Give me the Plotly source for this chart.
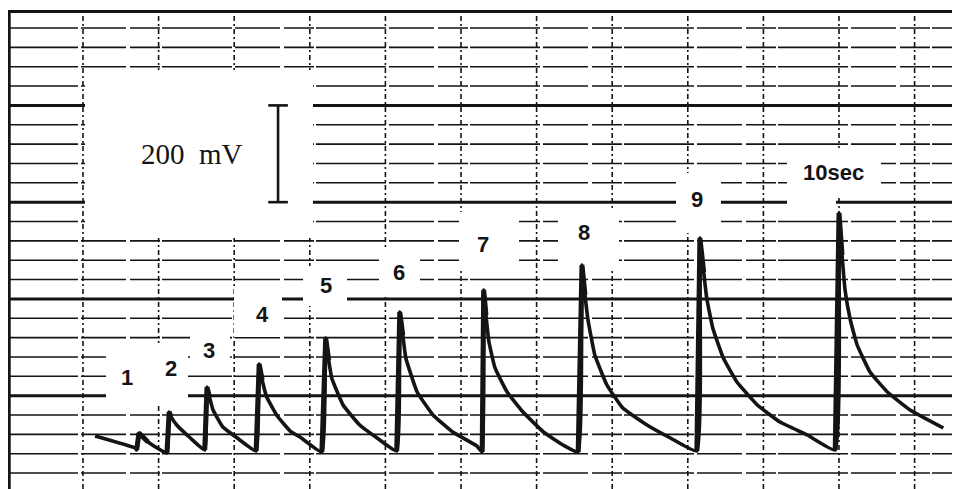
import plotly.graph_objects as go

# ---------------- data (x in chart divisions, y in mV above trough level) ----------------
trace_x = [1.16, 1.69, 1.71, 1.74, 1.86, 2.11, 2.14, 2.16, 2.24, 2.42, 2.61,
           2.64, 2.67, 2.72, 2.85, 3.04, 3.29,
           3.33, 3.37, 3.43, 3.57, 3.74, 3.87, 4.16,
           4.21, 4.25, 4.29, 4.44, 4.66, 4.89, 5.15,
           5.19, 5.23, 5.27, 5.42, 5.63, 5.89, 6.21, 6.28,
           6.30, 6.33, 6.37, 6.45, 6.61, 6.82, 7.09, 7.35, 7.55,
           7.60, 7.64, 7.68, 7.77, 7.93, 8.14, 8.46, 8.77, 9.12,
           9.16, 9.21, 9.25, 9.33, 9.47, 9.65, 9.92, 10.22, 10.58, 10.95,
           11.00, 11.04, 11.08, 11.15, 11.24, 11.41, 11.64, 11.94, 12.38]
trace_mv = [36.6, 11.8, 7.6, 42.8, 24.2, 1.4, 86.2, 77.9, 59.3, 32.5, 7.6,
            137.9, 119.3, 90.3, 55.2, 32.5, 5.6,
            185.4, 152.3, 117.2, 77.9, 46.9, 34.5, 3.5,
            239.2, 193.7, 156.5, 100.7, 59.3, 32.5, 5.6,
            292.9, 245.4, 197.8, 127.5, 80.0, 44.9, 15.9, 3.5,
            338.4, 286.7, 230.9, 177.2, 127.5, 86.2, 44.9, 18.0, 3.5,
            390.1, 328.1, 276.4, 204.0, 142.0, 94.5, 59.3, 32.5, 5.6,
            445.9, 375.6, 321.9, 259.8, 197.8, 148.2, 100.7, 65.5, 38.7, 7.6,
            497.6, 410.8, 338.4, 276.4, 224.7, 168.9, 127.5, 90.3, 53.1]

spike_labels = ["1", "2", "3", "4", "5", "6", "7", "8", "9", "10sec"]

scale_bar_mv = 200          # calibration bar height
scale_bar_base_mv = 520     # where the bar starts
scale_bar_x = 3.58
scale_label = "200\u00a0\u00a0mV"

grid_mv_lines = list(range(-40, 881, 40))     # chart-paper rulings, 40 mV apart
grid_div_lines = list(range(1, 13))           # time rulings

# ---------------- layout helpers ----------------
REF_W, REF_H = 960, 489
OFF = 8                                # page body margin
W, H = REF_W - OFF, REF_H - OFF
X0_PX, X_DIV_PX = 7.4, 75.6            # left border and one division (reference pixels)
Y0_PX, Y_PX_PER_MV = 453.7, 19.35 / 40.0

x_range = [(OFF - X0_PX) / X_DIV_PX, (REF_W - X0_PX) / X_DIV_PX]
y_range = [(Y0_PX - REF_H) / Y_PX_PER_MV, (Y0_PX - OFF) / Y_PX_PER_MV]

INK = "#141414"
TOP_PX = 11.5                          # top border of the paper (reference pixels)


def ref_px_to_paper(px, py):
    return (px - OFF) / W, 1 - (py - OFF) / H


shapes = []
# horizontal rulings
for mv in grid_mv_lines:
    thick = (mv - 120) % 200 == 0
    shapes.append(dict(type="line", xref="paper", yref="y", x0=0, x1=1, y0=mv, y1=mv,
                       line=dict(color=INK, width=3 if thick else 1.6,
                                 dash="solid" if thick else "70px,3px,45px,4px,30px,2px"),
                       layer="below"))
# vertical rulings
top_paper = ref_px_to_paper(0, TOP_PX)[1]
for d in grid_div_lines:
    shapes.append(dict(type="line", xref="x", yref="paper", x0=d, x1=d, y0=0, y1=top_paper,
                       line=dict(color=INK, width=1.6, dash="5px,3px,2px,3px"),
                       layer="below"))
# top and left borders of the chart paper
shapes.append(dict(type="line", xref="paper", yref="paper", x0=0, x1=1,
                   y0=top_paper, y1=top_paper,
                   line=dict(color=INK, width=3.2), layer="above"))
shapes.append(dict(type="line", xref="paper", yref="paper", x0=1.2 / W, x1=1.2 / W,
                   y0=0, y1=top_paper, line=dict(color=INK, width=3), layer="above"))


def px_rect(x0, y0, x1, y1):
    a0, b1 = ref_px_to_paper(x0, y0)
    a1, b0 = ref_px_to_paper(x1, y1)
    return dict(type="rect", xref="paper", yref="paper",
                x0=a0, x1=a1, y0=b0, y1=b1,
                fillcolor="white", line=dict(width=0), layer="below")


white_boxes_px = [
    (85, 70, 313, 238),     # calibration box
    (106, 352, 150, 404),   # 1
    (150, 343, 188, 404),   # 2
    (190, 324, 230, 368),   # 3
    (234, 287, 282, 337),   # 4
    (303, 266, 347, 306),   # 5
    (379, 248, 420, 296),   # 6
    (459, 212, 519, 270),   # 7
    (558, 209, 619, 270),   # 8
    (676, 173, 721, 233),   # 9
    (787, 148, 881, 195),   # 10sec
    (787, 195, 836, 213),
]
shapes += [px_rect(*b) for b in white_boxes_px]

fig = go.Figure()

# recorder trace
fig.add_trace(go.Scatter(x=trace_x, y=trace_mv, mode="lines",
                         line=dict(color=INK, width=3.6, shape="spline", smoothing=0.35),
                         hoverinfo="skip", showlegend=False))

# heavier ink on the fast pen strokes (rise to each peak and first fall)
sx, sy = [], []
for i in range(1, len(trace_mv) - 1):
    if trace_mv[i] > trace_mv[i - 1] and trace_mv[i] > trace_mv[i + 1]:
        sx += [trace_x[i - 1], trace_x[i], trace_x[i + 1], None]
        sy += [trace_mv[i - 1], trace_mv[i], trace_mv[i + 1], None]
fig.add_trace(go.Scatter(x=sx, y=sy, mode="lines",
                         line=dict(color=INK, width=5),
                         hoverinfo="skip", showlegend=False))

# calibration bar with caps
cap = 0.13
bx = [scale_bar_x, scale_bar_x, None,
      scale_bar_x - cap, scale_bar_x + cap, None,
      scale_bar_x - cap, scale_bar_x + cap]
by = [scale_bar_base_mv, scale_bar_base_mv + scale_bar_mv, None,
      scale_bar_base_mv + scale_bar_mv, scale_bar_base_mv + scale_bar_mv, None,
      scale_bar_base_mv, scale_bar_base_mv]
fig.add_trace(go.Scatter(x=bx, y=by, mode="lines", line=dict(color=INK, width=2.6),
                         hoverinfo="skip", showlegend=False))

label_pos_px = [(127, 377), (171, 368), (209, 350), (262, 314), (326, 285),
                (399, 272), (483, 244), (584, 232), (697, 199), (833, 173)]
annotations = []
for txt, (px, py) in zip(spike_labels, label_pos_px):
    ax, ay = ref_px_to_paper(px, py)
    annotations.append(dict(x=ax, y=ay, xref="paper", yref="paper",
                            text="<b>%s</b>" % txt, showarrow=False,
                            xanchor="center", yanchor="middle",
                            font=dict(family="Liberation Sans", size=22, color=INK)))
annotations.append(dict(x=(192 - X0_PX) / X_DIV_PX, y=scale_bar_base_mv + scale_bar_mv / 2,
                        xref="x", yref="y", text=scale_label, showarrow=False,
                        xanchor="center", yanchor="middle",
                        font=dict(family="Liberation Serif", size=29, color=INK)))

fig.update_layout(
    width=W, height=H, margin=dict(l=0, r=0, t=0, b=0),
    paper_bgcolor="white", plot_bgcolor="white",
    shapes=shapes, annotations=annotations, showlegend=False,
    xaxis=dict(range=x_range, showticklabels=False, ticks="", zeroline=False,
               showline=False, showgrid=False),
    yaxis=dict(range=y_range, showticklabels=False, ticks="", zeroline=False,
               showline=False, showgrid=False),
)

fig.write_html("out.html")
